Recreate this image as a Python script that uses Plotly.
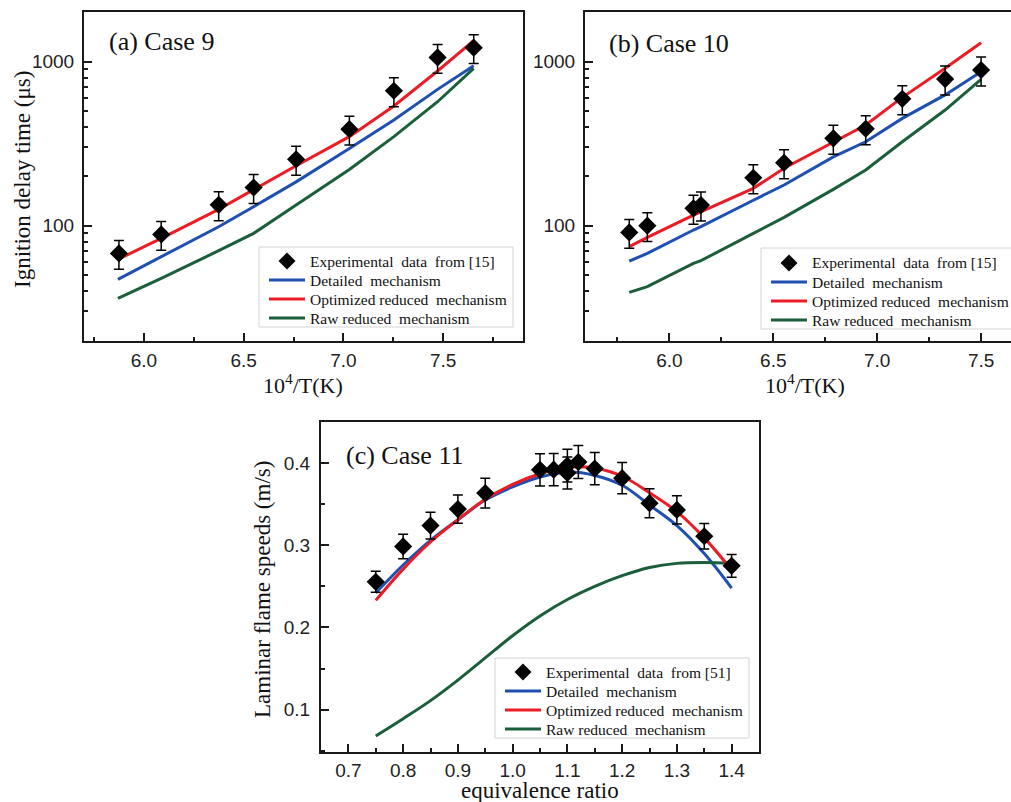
import plotly.graph_objects as go

# ---------------- Data ----------------
# (a) Case 9
a_exp_x = [5.875, 6.087, 6.375, 6.55, 6.763, 7.03, 7.253, 7.472, 7.653]
a_exp_y = [67.8, 88.5, 134, 171, 254, 388, 665, 1062, 1217]
a_line_x = [5.87, 6.087, 6.375, 6.55, 6.763, 7.03, 7.253, 7.472, 7.653]
a_detailed = [47.1, 64.7, 98.6, 130.6, 185, 296, 441, 678, 945]
a_optimized = [62.3, 83.7, 125.8, 166.5, 232, 349, 537, 878, 1343]
a_raw = [36.1, 47.7, 70.4, 89.8, 133.6, 220, 349, 570, 911]

# (b) Case 10
b_exp_x = [5.807, 5.894, 6.116, 6.152, 6.404, 6.552, 6.789, 6.945, 7.121, 7.327, 7.5]
b_exp_y = [91.0, 100, 127.6, 133.6, 196, 242, 341, 390, 594, 784, 890]
b_line_x = [5.807, 5.894, 6.116, 6.152, 6.404, 6.552, 6.789, 6.945, 7.121, 7.327, 7.5]
b_detailed = [60.9, 67.8, 94.1, 98.6, 143, 177, 263, 325, 451, 627, 869]
b_optimized = [74.5, 84.9, 116, 121.7, 169, 224, 325, 411, 606, 911, 1306]
b_raw = [39.2, 42.5, 58.9, 61.2, 89.8, 112.4, 166.5, 218.5, 325, 507, 780]

# (c) Case 11
c_exp_x = [0.75, 0.80, 0.85, 0.90, 0.95, 1.05, 1.075, 1.10, 1.10, 1.12, 1.15, 1.20, 1.25, 1.30, 1.35, 1.40]
c_exp_y = [0.2556, 0.2986, 0.3240, 0.3440, 0.3635, 0.3918, 0.392, 0.397, 0.388, 0.4013, 0.3933, 0.3817, 0.3512, 0.343, 0.311, 0.2750]
c_line_x = [0.75, 0.80, 0.85, 0.90, 0.95, 1.00, 1.05, 1.10, 1.15, 1.20, 1.25, 1.30, 1.35, 1.40]
c_detailed = [0.242, 0.276, 0.306, 0.331, 0.355, 0.371, 0.383, 0.389, 0.385, 0.373, 0.349, 0.324, 0.290, 0.248]
c_optimized = [0.233, 0.271, 0.304, 0.331, 0.356, 0.374, 0.387, 0.395, 0.394, 0.384, 0.364, 0.341, 0.309, 0.270]
c_raw = [0.068, 0.089, 0.111, 0.136, 0.163, 0.190, 0.214, 0.234, 0.250, 0.263, 0.273, 0.278, 0.279, 0.278]

log_ticks = [100, 1000]
log_ticktext = ["100", "1000"]

series_names = ["Detailed\u00a0 mechanism", "Optimized reduced\u00a0 mechanism", "Raw reduced\u00a0 mechanism"]
exp_names = ["Experimental\u00a0 data\u00a0 from [15]", "Experimental\u00a0 data\u00a0 from [15]",
             "Experimental\u00a0 data\u00a0 from [51]"]

# ---------------- Styles ----------------
W, H = 1011, 802
RED = "#ec1c24"
BLUE = "#1f4fb0"
GREEN = "#1b5e3b"
SERIF = "Liberation Serif"
SANS = "Liberation Sans"


def px_x(p):
    return p / W


def px_y(p):
    return 1 - p / H


fig = go.Figure()


def add_panel(xa, ya, lx, ex, ey, dd, do, dr, err, shape, exp_name):
    fig.add_trace(go.Scatter(x=lx, y=dd, mode="lines", name=series_names[0],
                             line=dict(color=BLUE, width=3, shape=shape),
                             xaxis=xa, yaxis=ya))
    fig.add_trace(go.Scatter(x=lx, y=dr, mode="lines", name=series_names[2],
                             line=dict(color=GREEN, width=3, shape=shape),
                             xaxis=xa, yaxis=ya))
    fig.add_trace(go.Scatter(x=lx, y=do, mode="lines", name=series_names[1],
                             line=dict(color=RED, width=3, shape=shape),
                             xaxis=xa, yaxis=ya))
    fig.add_trace(go.Scatter(x=ex, y=ey, mode="markers", name=exp_name,
                             marker=dict(symbol="diamond", size=14, color="black"),
                             error_y=dict(type="percent", value=err, color="black",
                                          thickness=1.5, width=5),
                             xaxis=xa, yaxis=ya))


add_panel("x", "y", a_line_x, a_exp_x, a_exp_y, a_detailed, a_optimized, a_raw, 20, "linear", exp_names[0])
add_panel("x2", "y2", b_line_x, b_exp_x, b_exp_y, b_detailed, b_optimized, b_raw, 20, "linear", exp_names[1])
add_panel("x3", "y3", c_line_x, c_exp_x, c_exp_y, c_detailed, c_optimized, c_raw, 5, "spline", exp_names[2])

tickfont = dict(family=SANS, size=19, color="#222")
axis_common = dict(showline=True, linecolor="#1a1a1a", linewidth=2, ticks="inside",
                   ticklen=8, tickwidth=1.6, tickcolor="#1a1a1a", showgrid=False,
                   zeroline=False, tickfont=tickfont)
minor_lin = lambda d: dict(ticks="inside", ticklen=4, dtick=d, tick0=0, tickwidth=1.6, tickcolor="#1a1a1a")
minor_log = dict(ticks="inside", ticklen=4, dtick="D1", tickwidth=1.6, tickcolor="#1a1a1a")

fig.update_layout(
    width=W, height=H, margin=dict(l=0, r=0, t=0, b=0),
    paper_bgcolor="white", plot_bgcolor="white", showlegend=False,
    xaxis=dict(domain=[px_x(84), px_x(523)], range=[5.70, 7.90], anchor="y",
               tick0=0, dtick=0.5, tickformat=".1f", mirror=True, ticklabelstandoff=1,
               minor=minor_lin(0.25), **axis_common),
    yaxis=dict(domain=[px_y(341), px_y(12)], type="log", range=[1.297, 3.303], anchor="x",
               tickvals=log_ticks, ticktext=log_ticktext, mirror=True, ticklabelstandoff=4,
               minor=minor_log, **axis_common),
    xaxis2=dict(domain=[px_x(585), 1.0], range=[5.594, 7.644], anchor="y2",
                tick0=0, dtick=0.5, tickformat=".1f", mirror=True, ticklabelstandoff=1,
                minor=minor_lin(0.25), **axis_common),
    yaxis2=dict(domain=[px_y(341), px_y(12)], type="log", range=[1.297, 3.303], anchor="x2",
                tickvals=log_ticks, ticktext=log_ticktext, mirror=False, ticklabelstandoff=4,
                minor=minor_log, **axis_common),
    xaxis3=dict(domain=[px_x(321), px_x(759)], range=[0.65, 1.45], anchor="y3",
                tick0=0, dtick=0.1, tickformat=".1f", mirror=True, ticklabelstandoff=0,
                minor=minor_lin(0.05), **axis_common),
    yaxis3=dict(domain=[px_y(752), px_y(422)], range=[0.0485, 0.45], anchor="x3",
                tick0=0, dtick=0.1, tickformat=".1f", mirror=True, ticklabelstandoff=5,
                minor=minor_lin(0.05), **axis_common),
)

# ---------------- Legends (drawn as boxes, keys and text) ----------------
shapes = []
anns = []
leg_font = dict(family=SERIF, size=15.5, color="#111")


def add_legend(box, rows, line_x0, line_x1, text_x, exp_name):
    l, t, r, b = box
    shapes.append(dict(type="rect", xref="paper", yref="paper",
                       x0=px_x(l), x1=px_x(r), y0=px_y(b), y1=px_y(t),
                       line=dict(color="#d4d4d4", width=1), fillcolor="white", layer="above"))
    cx, cy, hw = (line_x0 + line_x1) / 2, rows[0], 8.5
    path = "M {:.5f},{:.5f} L {:.5f},{:.5f} L {:.5f},{:.5f} L {:.5f},{:.5f} Z".format(
        px_x(cx), px_y(cy - hw), px_x(cx + hw), px_y(cy),
        px_x(cx), px_y(cy + hw), px_x(cx - hw), px_y(cy))
    shapes.append(dict(type="path", xref="paper", yref="paper", path=path,
                       fillcolor="black", line=dict(color="black", width=0), layer="above"))
    for ry, col in zip(rows[1:], [BLUE, RED, GREEN]):
        shapes.append(dict(type="line", xref="paper", yref="paper",
                           x0=px_x(line_x0), x1=px_x(line_x1), y0=px_y(ry), y1=px_y(ry),
                           line=dict(color=col, width=3), layer="above"))
    texts = [exp_name] + series_names
    for ry, txt in zip(rows, texts):
        anns.append(dict(text=txt, x=px_x(text_x), y=px_y(ry), xanchor="left",
                         yanchor="middle", font=leg_font))


add_legend((259, 247, 513, 327), [261, 280, 299, 318], 269, 305, 308, exp_names[0])
add_legend((761, 248, 1030, 329), [263, 282, 301, 320], 771, 807, 810, exp_names[1])
add_legend((495, 658, 749, 738), [672, 691, 710, 729], 505, 541, 544, exp_names[2])

ann_font = dict(family=SERIF, size=26, color="#111")
title_font = dict(family=SERIF, size=23, color="#111")
anns += [
    dict(text="(a) Case 9", x=px_x(107), y=px_y(42), xanchor="left", yanchor="middle", font=ann_font),
    dict(text="(b) Case 10", x=px_x(607), y=px_y(43), xanchor="left", yanchor="middle", font=ann_font),
    dict(text="(c) Case 11", x=px_x(344), y=px_y(455), xanchor="left", yanchor="middle", font=ann_font),
    dict(text="Ignition delay time (\u03bcs)", x=px_x(22), y=px_y(180), textangle=-90,
         xanchor="center", yanchor="middle", font=title_font),
    dict(text="10<sup>4</sup>/T(K)", x=px_x(303), y=px_y(384), xanchor="center", yanchor="middle",
         font=dict(family=SERIF, size=22, color="#111")),
    dict(text="10<sup>4</sup>/T(K)", x=px_x(805), y=px_y(384), xanchor="center", yanchor="middle",
         font=dict(family=SERIF, size=22, color="#111")),
    dict(text="Laminar flame speeds (m/s)", x=px_x(262), y=px_y(590), textangle=-90,
         xanchor="center", yanchor="middle", font=title_font),
    dict(text="equivalence ratio", x=px_x(540), y=px_y(790), xanchor="center", yanchor="middle",
         font=dict(family=SERIF, size=23, color="#111")),
]
for a in anns:
    a.update(xref="paper", yref="paper", showarrow=False)
fig.update_layout(annotations=anns, shapes=shapes)

fig.write_html("out.html")
